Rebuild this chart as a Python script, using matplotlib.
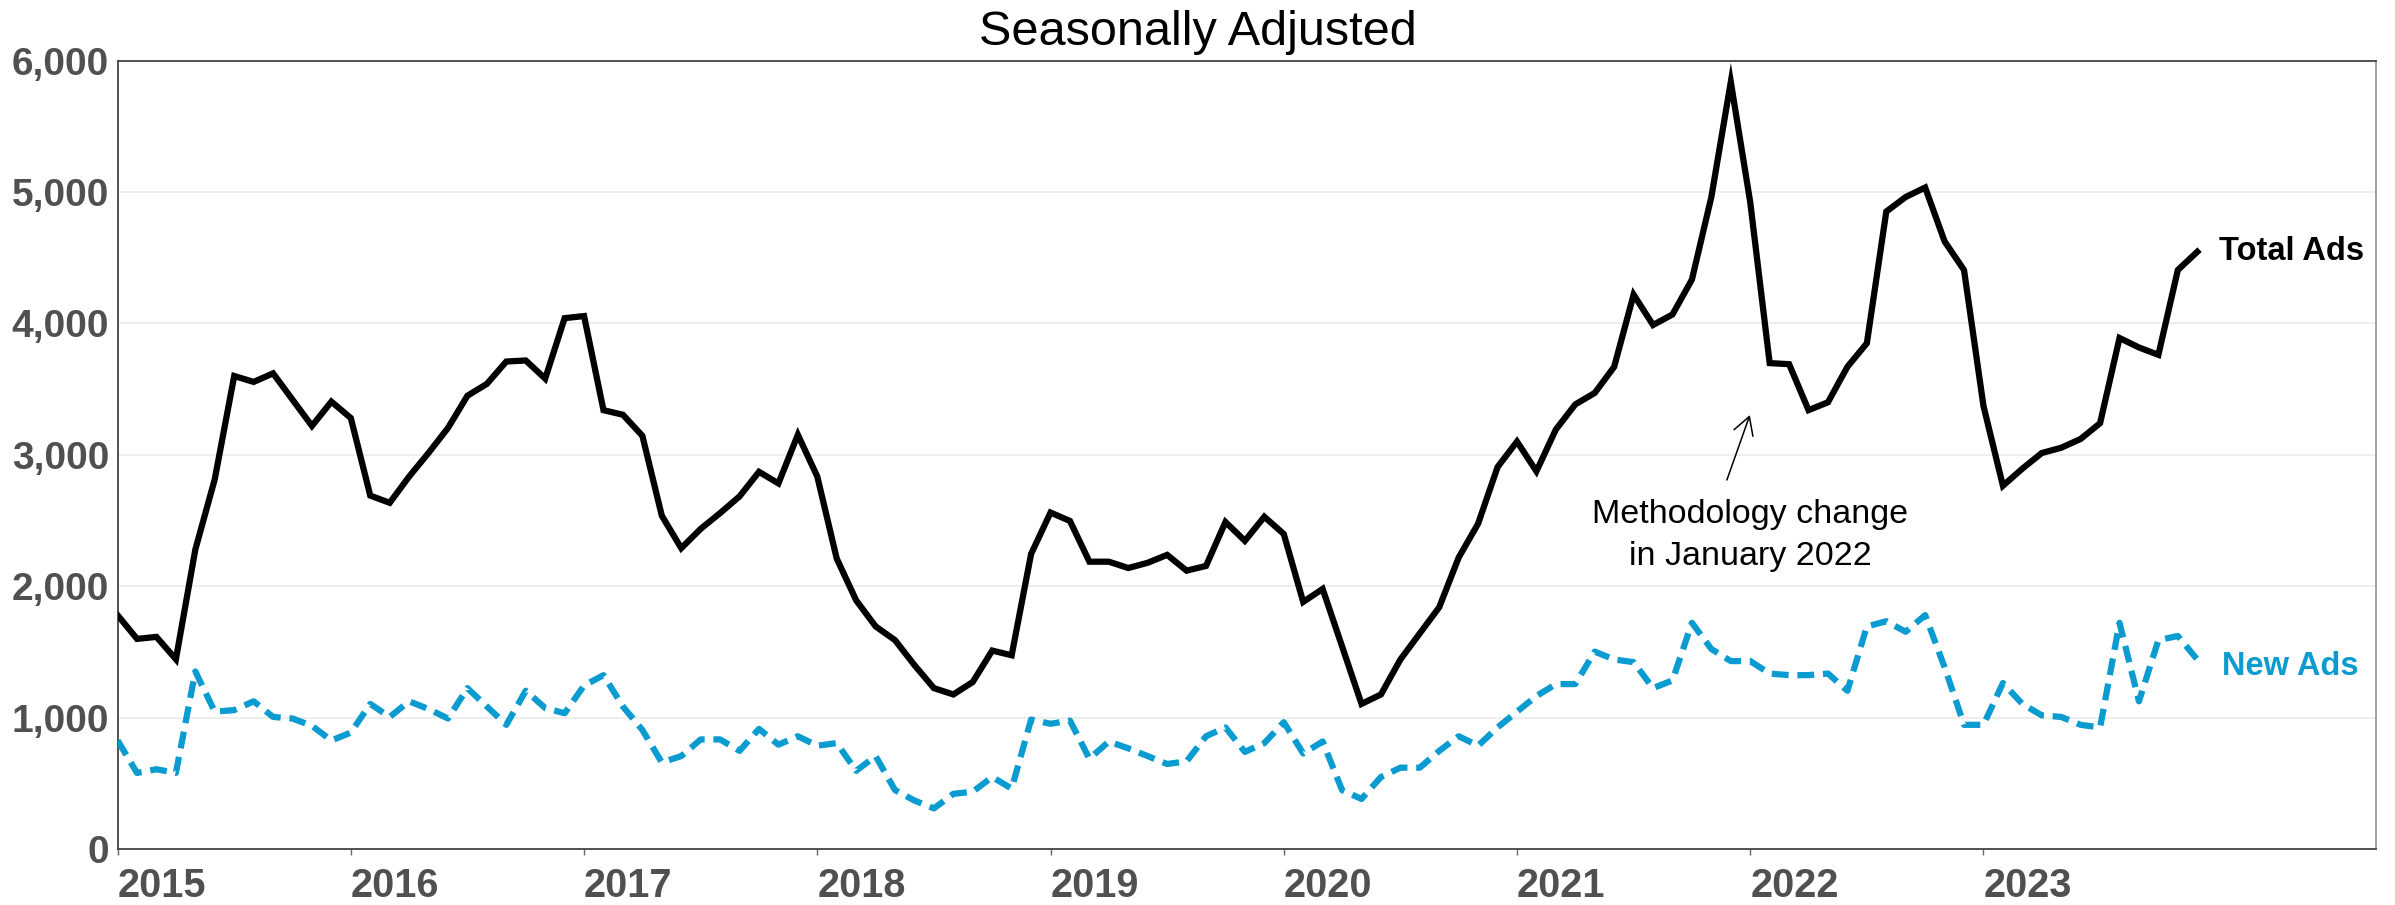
import matplotlib
matplotlib.use("Agg")
import matplotlib.pyplot as plt
import numpy as np

plt.rcParams['font.family'] = ['Liberation Sans', 'DejaVu Sans']

years = ['2015', '2016', '2017', '2018', '2019', '2020', '2021', '2022', '2023']

total_ads = [
    1780, 1600, 1615, 1445, 2280, 2815, 3600, 3555, 3620, 3420, 3220, 3405,   # 2015
    3280, 2690, 2635, 2835, 3015, 3205, 3450, 3540, 3710, 3718, 3580, 4040,   # 2016
    4056, 3340, 3305, 3145, 2537, 2290, 2437, 2557, 2684, 2871, 2783, 3153,   # 2017
    2835, 2211, 1893, 1695, 1590, 1400, 1225, 1177, 1272, 1511, 1475, 2246,   # 2018
    2561, 2497, 2187, 2187, 2139, 2179, 2239, 2119, 2155, 2489, 2346, 2529,   # 2019
    2398, 1881, 1980, 1543, 1105, 1177, 1443, 1642, 1841, 2219, 2477, 2907,   # 2020
    3101, 2875, 3193, 3384, 3471, 3670, 4219, 3988, 4068, 4334, 4962, 5837,   # 2021
    4922, 3698, 3690, 3340, 3400, 3670, 3849, 4851, 4962, 5034, 4624, 4406,   # 2022
    3372, 2765, 2895, 3014, 3054, 3121, 3241, 3889, 3817, 3761, 4406, 4545,   # 2023
]

new_ads = [
    827, 580, 608, 580, 1352, 1046, 1058, 1125, 1006, 994, 938, 827,          # 2015
    887, 1105, 1006, 1125, 1066, 994, 1225, 1085, 946, 1205, 1074, 1034,      # 2016
    1245, 1324, 1085, 907, 660, 708, 835, 835, 748, 915, 795, 859,            # 2017
    787, 807, 596, 708, 449, 370, 310, 421, 437, 549, 461, 986,               # 2018
    954, 978, 688, 819, 767, 708, 648, 668, 859, 926, 740, 807,               # 2019
    966, 728, 819, 449, 382, 549, 620, 620, 748, 859, 787, 926,               # 2020
    1046, 1165, 1256, 1256, 1503, 1443, 1423, 1225, 1284, 1722, 1523, 1431,   # 2021
    1431, 1336, 1324, 1324, 1336, 1205, 1694, 1734, 1654, 1781, 1384, 946,    # 2022
    946, 1264, 1105, 1018, 1006, 946, 926, 1722, 1125, 1590, 1622, 1443,      # 2023
]

y_ticks = [0, 1000, 2000, 3000, 4000, 5000, 6000]

BLUE = '#0a9bd0'
GRAY_TXT = '#505050'

months = np.arange(len(total_ads))

fig = plt.figure(figsize=(23.95, 9.05), dpi=100)
ax = fig.add_axes([0.0491, 0.0617, 0.9430, 0.8714])

ax.plot(months, total_ads, color='black', lw=4.5, solid_joinstyle='miter', zorder=3)
ax.plot(months, new_ads, color=BLUE, lw=4.5, dashes=(2.7, 1.4), zorder=3)

ax.set_xlim(0, 116.2)
ax.set_ylim(0, 6000)

ax.set_yticks(y_ticks)
ax.set_yticklabels([f'{v:,}' for v in y_ticks])
ax.set_xticks([12 * i for i in range(len(years))])
ax.set_xticklabels(years, ha='left')

ax.tick_params(axis='y', length=0, pad=6, labelsize=28, labelcolor=GRAY_TXT)
ax.tick_params(axis='x', length=4, width=1, color='#666666', pad=9,
               labelsize=28.5, labelcolor=GRAY_TXT)
for lab in ax.get_xticklabels() + ax.get_yticklabels():
    lab.set_fontweight('bold')

ax.grid(axis='y', color='#ebebeb', lw=1.2, zorder=0)
ax.set_axisbelow(True)
for side in ['left', 'bottom', 'top']:
    ax.spines[side].set_color('#444444')
    ax.spines[side].set_linewidth(1.3)
ax.spines['right'].set_color('#999999')
ax.spines['right'].set_linewidth(1.3)

fig.text(0.5, 1 - 45 / 905, 'Seasonally Adjusted', ha='center', va='baseline',
         fontsize=35, color='black')

# end labels
last = len(total_ads) - 1
ax.annotate('Total Ads', xy=(last, total_ads[-1]), xytext=(15.4, 0),
            textcoords='offset points', ha='left', va='center',
            fontsize=23.5, fontweight='bold', color='black')
ax.annotate('New Ads', xy=(last, new_ads[-1]), xytext=(17.6, -5.2),
            textcoords='offset points', ha='left', va='center',
            fontsize=23.5, fontweight='bold', color=BLUE)

# methodology annotation
ax.text(84, 2385, 'Methodology change\nin January 2022', ha='center', va='center',
        fontsize=24.5, color='black', linespacing=1.45)
ax.annotate('', xy=(83.98, 3303), xytext=(82.8, 2809),
            arrowprops=dict(arrowstyle='->,head_length=0.42,head_width=0.24',
                            lw=1.1, color='black', shrinkA=0, shrinkB=0,
                            mutation_scale=30))

fig.savefig('out.png', dpi=100)
